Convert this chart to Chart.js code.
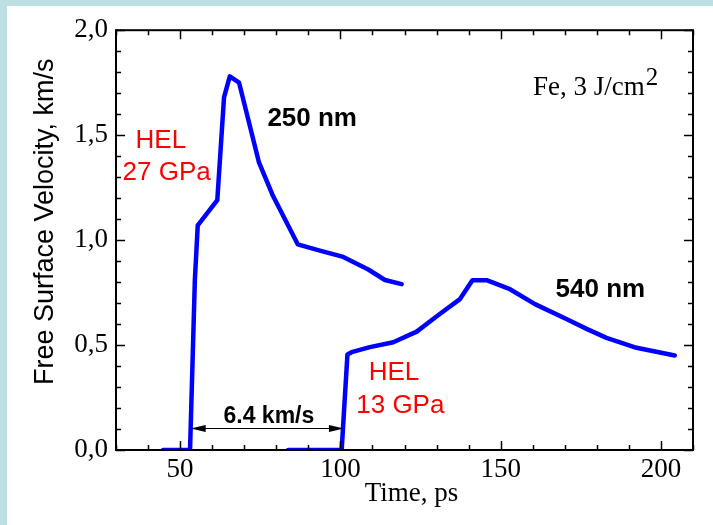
<!DOCTYPE html>
<html>
<head>
<meta charset="utf-8">
<script src="https://cdn.jsdelivr.net/npm/chart.js@4.4.1/dist/chart.umd.min.js"></script>
<style>
  html, body { margin: 0; padding: 0; }
  body { width: 713px; height: 525px; background: #bde0e4; overflow: hidden; }
  .panel { position: absolute; left: 7px; top: 6px; width: 706px; height: 519px; background: #fff; }
</style>
</head>
<body>
<div class="panel"><canvas id="chart" width="706" height="519"></canvas></div>
<script>
// 250 nm film
const t250 = [44.7, 53.1, 54.6, 55.5, 61.6, 63.7, 65.5, 68.4, 74.6, 79.0, 86.7, 93.6, 100.9, 108.7, 113.9, 119.1];
const v250 = [0, 0, 0.81, 1.07, 1.19, 1.68, 1.78, 1.75, 1.37, 1.21, 0.98, 0.95, 0.92, 0.86, 0.81, 0.79];

// 540 nm film
const t540 = [83.7, 100.4, 102.2, 103.5, 109.2, 116.5, 123.8, 131.0, 137.3, 141.2, 145.6, 152.9, 160.7, 170.5, 176.8, 183.0, 192.4, 204.3];
const v540 = [0, 0, 0.455, 0.466, 0.490, 0.513, 0.564, 0.648, 0.719, 0.809, 0.809, 0.766, 0.695, 0.624, 0.577, 0.534, 0.487, 0.450];

// tick labels (minor ticks every 10 ps / 0.1 km/s)
const xTickValues = [50, 100, 150, 200];
const yTickValues = [0, 0.5, 1.0, 1.5, 2.0];
const yTickLabels = ['0,0', '0,5', '1,0', '1,5', '2,0'];

const sans = '"Liberation Sans", Arial, sans-serif';
const serif = '"Liberation Serif", "Times New Roman", serif';

// text notes, placed in data units
const notes = [
  { text: 'HEL', x: 44.0, y: 1.441, color: '#ff0000', font: '26px ' + sans },
  { text: '27 GPa', x: 45.8, y: 1.288, color: '#ff0000', font: '26px ' + sans },
  { text: '250 nm', x: 91.2, y: 1.545, color: '#000', font: 'bold 26px ' + sans },
  { text: '540 nm', x: 181.1, y: 0.730, color: '#000', font: 'bold 26px ' + sans },
  { text: 'HEL', x: 116.7, y: 0.332, color: '#ff0000', font: '26px ' + sans },
  { text: '13 GPa', x: 118.7, y: 0.174, color: '#ff0000', font: '26px ' + sans },
  { text: '6.4 km/s', x: 77.7, y: 0.127, color: '#000', font: 'bold 23px ' + sans }
];
const arrow = { x1: 53.3, x2: 101.1, y: 0.106 };

function toPoints(xs, ys) {
  return xs.map((x, i) => ({ x: x, y: ys[i] }));
}

function isMajor(list, v) {
  return list.some(m => Math.abs(m - v) < 1e-6);
}

const framePlugin = {
  id: 'frame',
  afterDatasetsDraw(chart) {
    const { ctx, chartArea: a, scales: { x, y } } = chart;
    ctx.save();
    ctx.strokeStyle = '#000';
    ctx.fillStyle = '#000';

    // inward ticks on all four sides
    ctx.lineWidth = 1.5;
    ctx.beginPath();
    x.ticks.forEach(t => {
      const px = Math.round(x.getPixelForValue(t.value)) + 0.5;
      const len = isMajor(xTickValues, t.value) ? 9 : 5;
      ctx.moveTo(px, a.bottom); ctx.lineTo(px, a.bottom - len);
      ctx.moveTo(px, a.top); ctx.lineTo(px, a.top + len);
    });
    y.ticks.forEach(t => {
      const py = Math.round(y.getPixelForValue(t.value)) + 0.5;
      const len = isMajor(yTickValues, t.value) ? 9 : 5;
      ctx.moveTo(a.left, py); ctx.lineTo(a.left + len, py);
      ctx.moveTo(a.right, py); ctx.lineTo(a.right - len, py);
    });
    ctx.stroke();

    ctx.lineWidth = 2;
    ctx.strokeRect(a.left, a.top, a.right - a.left, a.bottom - a.top);

    // notes
    ctx.textAlign = 'center';
    ctx.textBaseline = 'alphabetic';
    notes.forEach(n => {
      ctx.font = n.font;
      ctx.fillStyle = n.color;
      ctx.fillText(n.text, x.getPixelForValue(n.x), y.getPixelForValue(n.y));
    });

    // Fe, 3 J/cm^2
    ctx.fillStyle = '#000';
    ctx.textAlign = 'left';
    ctx.font = '27px ' + serif;
    const fx = x.getPixelForValue(160.1), fy = y.getPixelForValue(1.690);
    ctx.fillText('Fe, 3 J/cm', fx, fy);
    const w = ctx.measureText('Fe, 3 J/cm').width;
    ctx.font = '25px ' + serif;
    ctx.fillText('2', fx + w + 1, fy - 10);

    // double arrow
    const ax1 = x.getPixelForValue(arrow.x1), ax2 = x.getPixelForValue(arrow.x2);
    const ay = Math.round(y.getPixelForValue(arrow.y)) + 0.5;
    ctx.lineWidth = 1;
    ctx.beginPath();
    ctx.moveTo(ax1 + 10, ay); ctx.lineTo(ax2 - 10, ay);
    ctx.stroke();
    ctx.beginPath();
    ctx.moveTo(ax1, ay); ctx.lineTo(ax1 + 15, ay - 3.5); ctx.lineTo(ax1 + 15, ay + 3.5); ctx.closePath();
    ctx.moveTo(ax2, ay); ctx.lineTo(ax2 - 15, ay - 3.5); ctx.lineTo(ax2 - 15, ay + 3.5); ctx.closePath();
    ctx.fill();

    // axis titles
    ctx.textAlign = 'center';
    ctx.font = '27px ' + serif;
    ctx.fillText('Time, ps', (a.left + a.right) / 2 + 7, 494.7);
    ctx.save();
    ctx.translate(45.6, 215.7);
    ctx.rotate(-Math.PI / 2);
    ctx.font = '27px ' + sans;
    ctx.fillText('Free Surface Velocity, km/s', 0, 0);
    ctx.restore();

    ctx.restore();
  }
};

new Chart(document.getElementById('chart'), {
  type: 'line',
  data: {
    datasets: [
      { label: '250 nm', data: toPoints(t250, v250) },
      { label: '540 nm', data: toPoints(t540, v540) }
    ]
  },
  options: {
    responsive: false,
    animation: false,
    layout: { padding: { top: 22, right: 20, left: 0, bottom: 0 } },
    elements: {
      line: { borderColor: '#0000ff', borderWidth: 4.5, tension: 0, borderJoinStyle: 'round', borderCapStyle: 'round', fill: false },
      point: { radius: 0, hoverRadius: 0 }
    },
    plugins: { legend: { display: false }, tooltip: { enabled: false } },
    scales: {
      x: {
        type: 'linear', min: 30, max: 210,
        grid: { display: false, drawTicks: false },
        border: { display: false },
        ticks: {
          stepSize: 10, autoSkip: false, maxRotation: 0, padding: 4, color: '#000',
          font: { family: serif, size: 27 },
          callback: v => isMajor(xTickValues, v) ? String(v) : ''
        },
        afterFit: s => { s.height = 75; }
      },
      y: {
        min: 0, max: 2,
        grid: { display: false, drawTicks: false },
        border: { display: false },
        ticks: {
          stepSize: 0.1, autoSkip: false, padding: 8, color: '#000',
          font: { family: serif, size: 27 },
          callback: v => {
            const i = yTickValues.findIndex(m => Math.abs(m - v) < 1e-6);
            return i >= 0 ? yTickLabels[i] : '';
          }
        },
        afterFit: s => { s.width = 109; }
      }
    }
  },
  plugins: [framePlugin]
});
</script>
</body>
</html>
